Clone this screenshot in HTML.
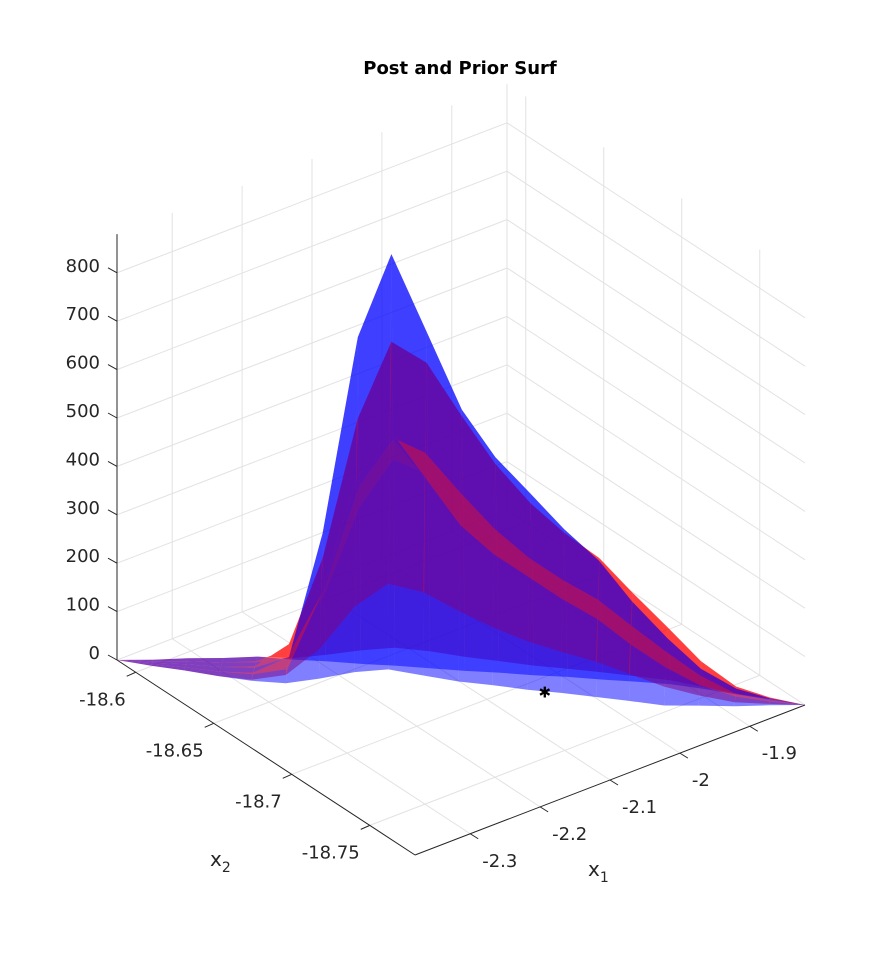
<!DOCTYPE html>
<html><head><meta charset="utf-8"><style>
html,body{margin:0;padding:0;background:#fff;}
svg{display:block;font-family:"DejaVu Sans","Liberation Sans",sans-serif;}
</style></head><body>
<svg id="chart" width="891" height="973" viewBox="0 0 891 973">
<text x="460" y="74" text-anchor="middle" font-size="18" font-weight="bold" fill="#000">Post and Prior Surf</text>
<g id="grid"></g>
<g id="surf"></g>
<g id="axes"></g>
<text x="210" y="866" font-size="20" fill="#262626">x<tspan font-size="14" dy="6">2</tspan></text>
<text x="588" y="876" font-size="20" fill="#262626">x<tspan font-size="14" dy="6">1</tspan></text>
</svg>
<script>
const x1Grid = [-2.379,-2.351,-2.323,-2.295,-2.267,-2.240,-2.212,-2.184,-2.156,-2.128,-2.1,-2.072,-2.044,-2.016,-1.988,-1.961,-1.933,-1.905,-1.877,-1.849,-1.821];
const x2Grid = [-18.588,-18.598,-18.607,-18.617,-18.626,-18.636,-18.645,-18.655,-18.664,-18.674,-18.684,-18.693,-18.703,-18.712,-18.722,-18.731,-18.741,-18.750,-18.760,-18.769,-18.779];
const crossGrid = [1,0.5,0,-0.5,-1];
const zPost = [
[0,0,0,0,0,0,0,0,0,0,0,0,0,0,0,0,0,0,0,0,0],
[0,0,0,0,1,17,160,380,480,395,310,259,220,182,149,105,66,33,14,4,0],
[0,0,0,0,2,30,290,700,875,720,565,470,400,330,270,190,120,60,25,8,0],
[0,0,0,0,1,18,174,420,525,432,339,282,240,198,162,114,72,36,15,5,0],
[0,0,0,0,0,1,14,33,42,35,28,24,20,17,14,10,6,3,1,0,0]];
const zPrior = [
[0,0,0,0,0,3,13,28,37,35,29,24,20,17,15,11,8,4,2,1,0],
[0,0,0,0,3,36,150,336,438,414,348,288,240,204,174,132,90,48,18,6,0],
[0,0,0,0,5,57,238,532,694,656,551,456,380,323,276,209,143,76,29,10,0],
[0,0,0,0,4,42,175,392,511,483,406,336,280,238,203,154,105,56,21,7,0],
[0,0,0,0,2,18,75,168,219,207,174,144,120,102,87,66,45,24,9,3,0]];
const zTicks = [0,100,200,300,400,500,600,700,800];
const x1Ticks = [-2.3,-2.2,-2.1,-2,-1.9];
const x1Labels = ["-2.3","-2.2","-2.1","-2","-1.9"];
const x2Ticks = [-18.6,-18.65,-18.7,-18.75];
const x2Labels = ["-18.6","-18.65","-18.7","-18.75"];
const markerPt = [-2.037,-18.709,0];

const X1MIN=-2.379,X1MAX=-1.821,X2MIN=-18.779,X2MAX=-18.588,ZTOP=880;
function fa(x1){return (x1-X1MIN)/(X1MAX-X1MIN);}
function fb(x2){return (x2-X2MIN)/(X2MAX-X2MIN);}
function P(x1,x2,z){const a=fa(x1),b=fb(x2);return [415+390*a-298*b, 855-150*a-195*b-0.484*z];}
function stripPt(i,k){
  const t=i/(x1Grid.length-1);
  const c=0.035*Math.min(1,5*t,5*(1-t));
  return [x1Grid[i]+crossGrid[k]*c*(X1MAX-X1MIN), x2Grid[i]+crossGrid[k]*c*(X2MAX-X2MIN)];
}
const NS="http://www.w3.org/2000/svg";
function mk(tag,attrs,parent){const e=document.createElementNS(NS,tag);for(const k in attrs)e.setAttribute(k,attrs[k]);parent.appendChild(e);return e;}
const grid=document.getElementById('grid'),surf=document.getElementById('surf'),axes=document.getElementById('axes');
function line(p,q,col,w,parent,name){const l=mk('line',{x1:p[0],y1:p[1],x2:q[0],y2:q[1],stroke:col,'stroke-width':w},parent);


return l;}
const gc="#e2e2e2";
zTicks.forEach(z=>{
  line(P(X1MIN,X2MAX,z),P(X1MAX,X2MAX,z),gc,1,grid,'z-gridline');
  line(P(X1MAX,X2MAX,z),P(X1MAX,X2MIN,z),gc,1,grid,'z-gridline');
});
x1Ticks.forEach(t=>{
  line(P(t,X2MAX,0),P(t,X2MAX,ZTOP),gc,1,grid,'x1-wall-gridline');
  line(P(t,X2MIN,0),P(t,X2MAX,0),gc,1,grid,'x1-floor-gridline');
});
x2Ticks.forEach(t=>{
  line(P(X1MAX,t,0),P(X1MAX,t,ZTOP),gc,1,grid,'x2-wall-gridline');
  line(P(X1MIN,t,0),P(X1MAX,t,0),gc,1,grid,'x2-floor-gridline');
});
line(P(X1MAX,X2MAX,0),P(X1MAX,X2MAX,ZTOP),gc,1,grid,'back-edge');
const quads=[];
function addSurf(Z,col,name,bias){
  for(let k=0;k<crossGrid.length-1;k++)for(let i=0;i<x1Grid.length-1;i++){
    const c=[[i,k],[i+1,k],[i+1,k+1],[i,k+1]];
    let d=0;
    const pts=c.map(([ii,kk])=>{const s=stripPt(ii,kk);d+=fa(s[0])+fb(s[1]);return P(s[0],s[1],Z[kk][ii]);});
    quads.push({pts,col,name,d:d+bias});
  }
}
addSurf(zPrior,"#ff0000",'prior-surface-face',0);
addSurf(zPost,"#0000ff",'posterior-surface-face',-0.001);
quads.sort((p,q)=>q.d-p.d);
quads.forEach(q=>{
  const e=mk('polygon',{points:q.pts.map(p=>p[0].toFixed(1)+','+p[1].toFixed(1)).join(' '),fill:q.col,'fill-opacity':0.5},surf);
  
  
});
const ac="#262626";
line(P(X1MIN,X2MAX,0),P(X1MIN,X2MAX,ZTOP),ac,1,axes,'z-axis-line');
line(P(X1MIN,X2MAX,0),P(X1MIN,X2MIN,0),ac,1,axes,'x2-axis-line');
line(P(X1MIN,X2MIN,0),P(X1MAX,X2MIN,0),ac,1,axes,'x1-axis-line');
zTicks.forEach(z=>{
  const p=P(X1MIN,X2MAX,z);
  line(p,[p[0]-9,p[1]-5],ac,1,axes,'z-tick');
  const t=mk('text',{x:100,y:p[1]-1,'text-anchor':'end','font-size':18,fill:ac},axes);
  t.textContent=String(z);
  
  
});
x2Ticks.forEach((v,k)=>{
  const p=P(X1MIN,v,0);
  line(p,[p[0]-9,p[1]+4],ac,1,axes,'x2-tick');
  const t=mk('text',{x:p[0]-10,y:p[1]+33,'text-anchor':'end','font-size':18,fill:ac},axes);
  t.textContent=x2Labels[k];
  
  
});
x1Ticks.forEach((v,k)=>{
  const p=P(v,X2MIN,0);
  line(p,[p[0]+8,p[1]+5],ac,1,axes,'x1-tick');
  const t=mk('text',{x:p[0]+12,y:p[1]+33,'text-anchor':'start','font-size':18,fill:ac},axes);
  t.textContent=x1Labels[k];
  
  
});
const mp=P(markerPt[0],markerPt[1],markerPt[2]);
const st=mk('text',{x:mp[0],y:mp[1]+6,'text-anchor':'middle','font-size':15,'font-weight':'bold',fill:'#000'},axes);
st.textContent='✱';


</script>
</body></html>
